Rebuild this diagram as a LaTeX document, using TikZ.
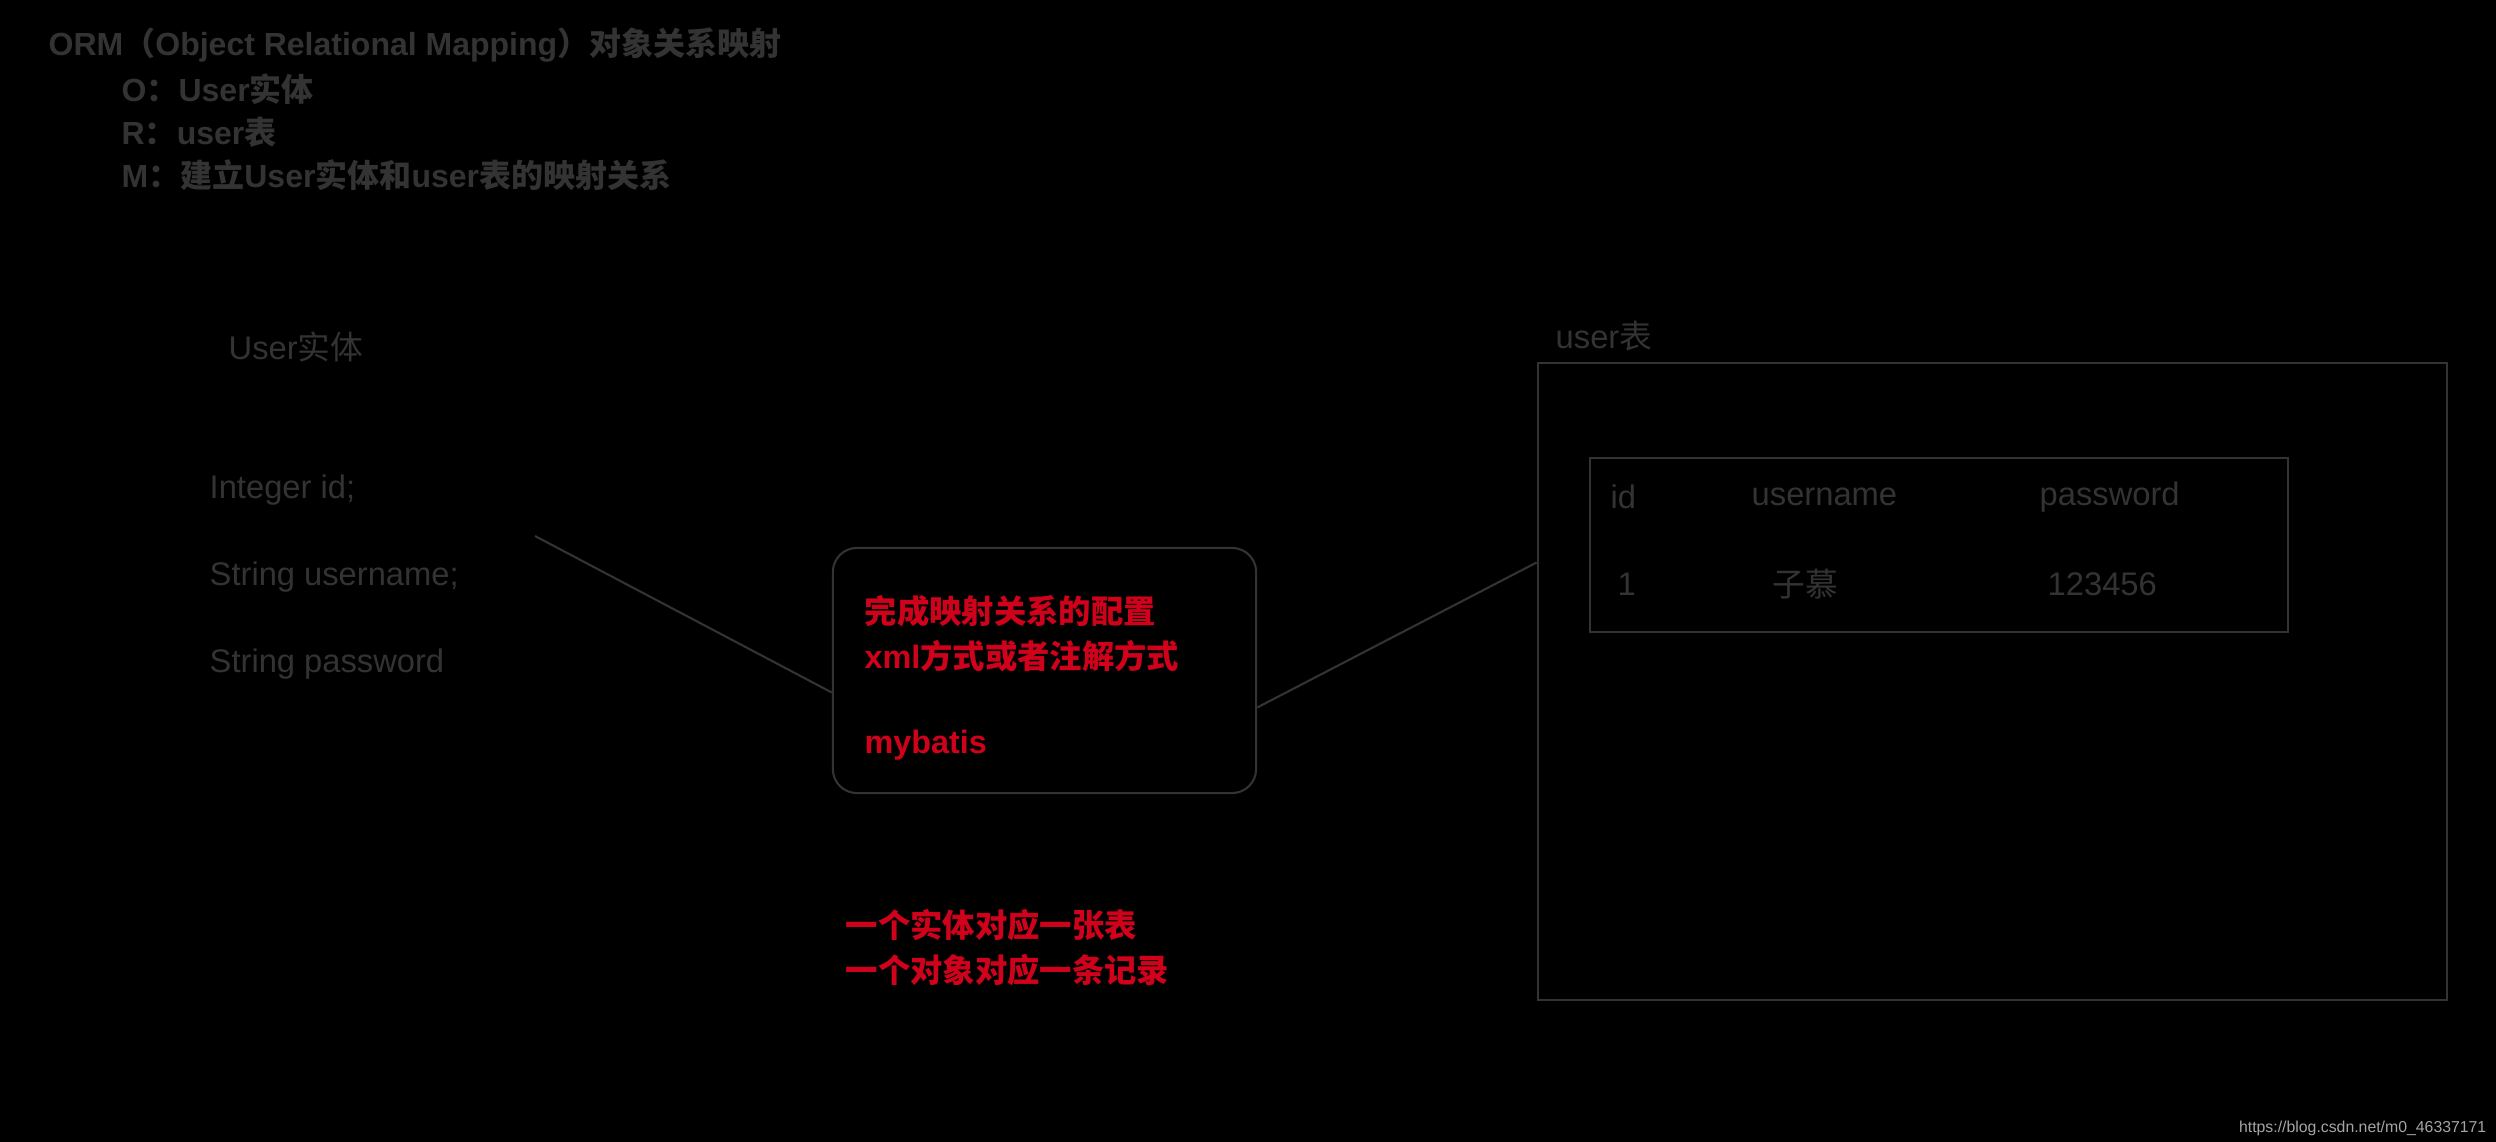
\documentclass[tikz,border=0pt]{standalone}
\usepackage{fontspec}
\setmainfont{Liberation Sans}
\newfontfamily\cjk{Noto Sans CJK SC}
\newcommand{\zh}[1]{{\cjk #1}}
\usetikzlibrary{positioning}
\definecolor{ink}{RGB}{51,51,51}
\definecolor{mapred}{RGB}{208,2,27}
\definecolor{markgray}{RGB}{165,165,165}

\begin{document}
\begin{tikzpicture}[x=0.01cm,y=-0.01cm,font=\fontsize{9.3}{12.8}\selectfont]

    % Define node styles
    \tikzstyle{txt} = [inner sep=0pt, anchor=west, text=ink]
    \tikzstyle{head} = [txt, font=\fontsize{9.1}{12}\selectfont\bfseries]
    \tikzstyle{note} = [txt, text=mapred, font=\fontsize{9.2}{12.8}\selectfont\bfseries]
    \tikzstyle{frame} = [draw=ink, line width=0.6pt, rectangle, inner sep=0pt]
    \tikzstyle{wire} = [draw=ink, line width=0.6pt]

    % Background
    \fill[black] (0,0) rectangle (2496,1142);
    \useasboundingbox (0,0) rectangle (2496,1142);

    % Draw title
    \node [head] (title) at (48,45) {ORM\zh{（}Object Relational Mapping\zh{）对象关系映射}};
    \node [head] (orm-o) at (121,89) {O\zh{：}User\zh{实体}};
    \node [head] (orm-r) at (121,132) {R\zh{：}user\zh{表}};
    \node [head] (orm-m) at (121,175) {M\zh{：建立}User\zh{实体和}user\zh{表的映射关系}};

    % Draw entity
    \node [txt] (entity) at (228,347) {User\zh{实体}};
    \node [txt] (fid) at (209,490) {Integer id;};
    \node [txt, below=0.87cm of fid.west, anchor=west] (fname) {String username;};
    \node [txt, below=0.87cm of fname.west, anchor=west] (fpass) {String password};
    \coordinate (fend) at (535,536);

    % Draw mapping box
    \node [frame, rounded corners=0.24cm, minimum width=4.23cm, minimum height=2.45cm] (mapping) at (1044.5,670.5) {};
    \node [note] (mapcfg) at (864,611) {\zh{完成映射关系的配置}};
    \node [note] (mapway) at (864,656) {xml\zh{方式或者注解方式}};
    \node [note] (mapfw) at (864,745) {mybatis};
    \node [note] (rule1) at (845,925) {\zh{一个实体对应一张表}};
    \node [note] (rule2) at (845,970) {\zh{一个对象对应一条记录}};

    % Draw table
    \node [txt] (tname) at (1555,336) {user\zh{表}};
    \node [frame, minimum width=9.09cm, minimum height=6.37cm] (usertable) at (1992.5,681.5) {};
    \node [frame, minimum width=6.98cm, minimum height=1.74cm] (rows) at (1939,545) {};
    \node [txt] (cid) at (1610,497) {id};
    \node [txt] (cname) at (1751,497) {username};
    \node [txt] (cpass) at (2039,497) {password};
    \node [txt, below=0.87cm of cid.west, anchor=west, xshift=0.07cm] (vid) {1};
    \node [txt, below=0.87cm of cname.west, anchor=west, xshift=0.21cm] (vname) {\zh{子慕}};
    \node [txt, below=0.87cm of cpass.west, anchor=west, xshift=0.08cm] (vpass) {123456};

    % Draw lines
    \draw [wire] (fend) -- ([yshift=-0.22cm]mapping.west);
    \draw [wire] ([yshift=-0.37cm]mapping.east) -- ([yshift=1.19cm]usertable.west);

    \node [inner sep=0pt, anchor=mid east, text=markgray, font=\fontsize{4.5}{5}\selectfont] (mark) at (2487,1123) {https://blog.csdn.net/m0\_46337171};

\end{tikzpicture}
\end{document}
